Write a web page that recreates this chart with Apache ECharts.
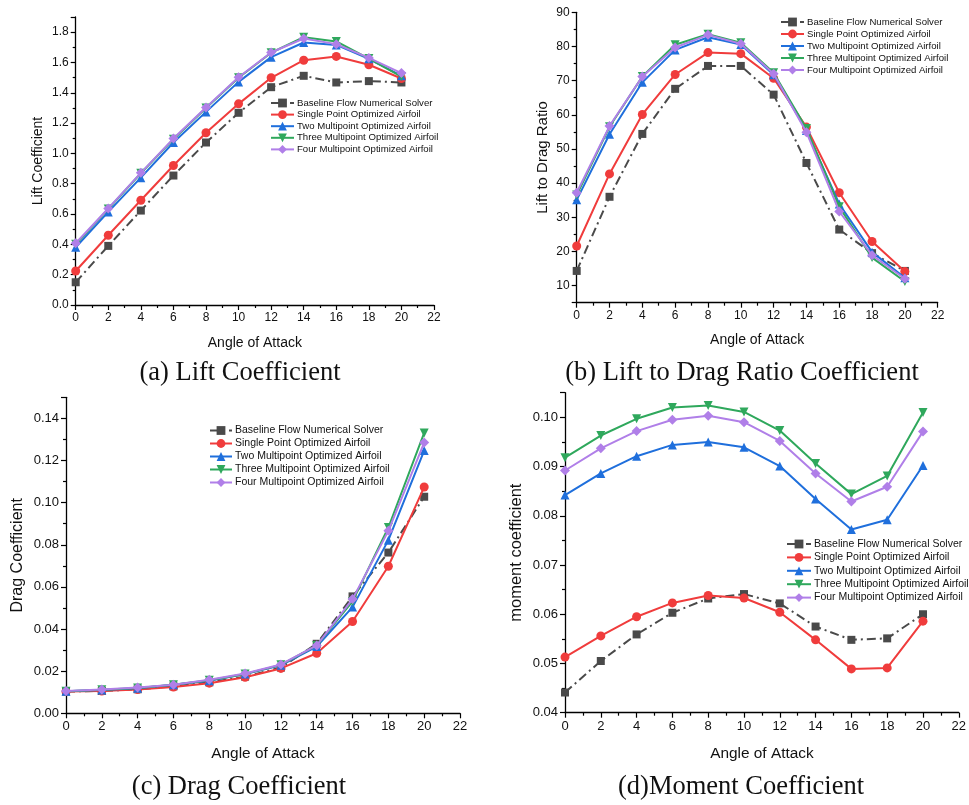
<!DOCTYPE html>
<html>
<head>
<meta charset="utf-8">
<script src="https://cdn.jsdelivr.net/npm/echarts@6/dist/echarts.min.js"></script>
<style>
html,body{margin:0;padding:0;background:#fff;}
#main{width:969px;height:805px;}
</style>
</head>
<body>
<div id="main"></div>
<script>
// ---------- data ----------
var angles = [0, 2, 4, 6, 8, 10, 12, 14, 16, 18, 20];
var seriesNames = [
  'Baseline Flow Numerical Solver',
  'Single Point Optimized Airfoil',
  'Two Multipoint Optimized Airfoil',
  'Three Multipoint Optimized Airfoil',
  'Four Multipoint Optimized Airfoil'
];
var xTickLabels = [0, 2, 4, 6, 8, 10, 12, 14, 16, 18, 20, 22];

// (a) Lift coefficient
var liftBaseline = [0.15, 0.39, 0.623, 0.854, 1.072, 1.268, 1.437, 1.512, 1.468, 1.477, 1.468];
var liftSingle   = [0.224, 0.46, 0.691, 0.92, 1.136, 1.327, 1.499, 1.615, 1.64, 1.585, 1.494];
var liftTwo      = [0.381, 0.614, 0.84, 1.072, 1.274, 1.472, 1.635, 1.732, 1.716, 1.624, 1.512];
var liftThree    = [0.40, 0.634, 0.869, 1.094, 1.30, 1.499, 1.664, 1.767, 1.739, 1.626, 1.507];
var liftFour     = [0.407, 0.637, 0.872, 1.098, 1.303, 1.502, 1.666, 1.758, 1.721, 1.63, 1.53];

// (b) Lift to drag ratio
var ldBaseline = [14.3, 36.0, 54.4, 67.6, 74.3, 74.3, 65.9, 45.9, 26.4, 19.5, 14.3];
var ldSingle   = [21.6, 42.7, 60.1, 71.8, 78.2, 77.9, 70.7, 56.4, 37.2, 22.9, 14.1];
var ldTwo      = [35.1, 54.3, 69.5, 79.0, 82.7, 80.6, 71.7, 55.4, 33.9, 19.8, 12.3];
var ldThree    = [36.5, 56.5, 71.2, 80.5, 83.6, 81.1, 72.3, 56.0, 33.1, 18.2, 11.2];
var ldFour     = [37.2, 56.7, 71.2, 79.7, 83.4, 80.8, 72.0, 54.9, 31.7, 18.9, 12.0];

// (c) Drag coefficient
var dragBaseline = [0.0103, 0.0106, 0.0114, 0.0128, 0.0147, 0.0174, 0.0217, 0.0330, 0.0555, 0.0763, 0.1028];
var dragSingle   = [0.0103, 0.0106, 0.0113, 0.0125, 0.0143, 0.0171, 0.0213, 0.0285, 0.0436, 0.0698, 0.1074];
var dragTwo      = [0.0105, 0.0111, 0.0119, 0.0135, 0.0155, 0.0186, 0.0228, 0.0317, 0.0504, 0.0822, 0.1247];
var dragThree    = [0.0105, 0.0112, 0.0120, 0.0136, 0.0157, 0.0187, 0.0230, 0.0322, 0.0531, 0.0882, 0.1331];
var dragFour     = [0.0106, 0.0113, 0.0122, 0.0136, 0.0159, 0.0189, 0.0232, 0.0322, 0.0542, 0.0866, 0.1285];

// (d) Moment coefficient
var momBaseline = [0.0441, 0.0505, 0.0559, 0.0603, 0.0632, 0.0641, 0.0622, 0.0575, 0.0548, 0.0551, 0.0600];
var momSingle   = [0.0513, 0.0556, 0.0595, 0.0623, 0.0638, 0.0633, 0.0604, 0.0548, 0.0489, 0.0491, 0.0586];
var momTwo      = [0.0842, 0.0886, 0.0921, 0.0944, 0.0950, 0.0939, 0.0901, 0.0834, 0.0772, 0.0792, 0.0902];
var momThree    = [0.0918, 0.0963, 0.0997, 0.1020, 0.1024, 0.1011, 0.0973, 0.0906, 0.0844, 0.0881, 0.1010];
var momFour     = [0.0892, 0.0937, 0.0972, 0.0995, 0.1003, 0.0990, 0.0952, 0.0886, 0.0829, 0.0859, 0.0971];

var captions = ['(a) Lift Coefficient', '(b) Lift to Drag Ratio Coefficient', '(c) Drag Coefficient', '(d)Moment Coefficient'];
var yNames = ['Lift Coefficient', 'Lift to Drag Ratio', 'Drag Coefficient', 'moment coefficient'];
var xName = 'Angle of Attack';

// ---------- styles ----------
var colors = ['#4a4a4a', '#f03c3c', '#1f6fdc', '#2fa85c', '#b07fe8'];
var symbols = ['rect', 'circle', 'triangle', 'triangle', 'diamond'];
var rotates = [0, 0, 0, 180, 0];
var symSizes = [8, 9, 9, 9, 10];

var panels = [
  [liftBaseline, liftSingle, liftTwo, liftThree, liftFour],
  [ldBaseline, ldSingle, ldTwo, ldThree, ldFour],
  [dragBaseline, dragSingle, dragTwo, dragThree, dragFour],
  [momBaseline, momSingle, momTwo, momThree, momFour]
];

var grids = [
  {left: 75.7, top: 17, width: 358.3, height: 288},
  {left: 576.7, top: 12.3, width: 361, height: 290.4},
  {left: 66, top: 397.3, width: 394, height: 316},
  {left: 565, top: 392.7, width: 396.7, height: 320}
];
var tickFont = [12, 12, 13, 13];
var nameFont = [14, 15, 16, 16.5];
var xNameFont = [14, 14, 15.4, 15.4];
var yNameGap = [31, 26, 40, 40];
var xNameGap = [31, 30, 33, 34];

var yAxisCfg = [
  {min: 0, max: 1.9, interval: 0.2},
  {min: 5, max: 90, splitNumber: 9},
  {min: 0, max: 0.15, interval: 0.02},
  {min: 0.04, max: 0.105, interval: 0.01}
];
var yFormat = [
  function (v) { return v.toFixed(1); },
  function (v) { return String(Math.round(v)); },
  function (v) { return v.toFixed(2); },
  function (v) { return v.toFixed(2); }
];

var axisCommon = {
  axisLine: {show: true, onZero: false, lineStyle: {color: '#000', width: 1.3}},
  axisTick: {show: true, inside: false, length: 5, lineStyle: {color: '#000', width: 1.2}},
  minorTick: {show: true, splitNumber: 2, length: 3, lineStyle: {color: '#000', width: 1.2}},
  splitLine: {show: false},
  minorSplitLine: {show: false}
};

var xAxes = [], yAxes = [], series = [], graphics = [], legends = [];
for (var p = 0; p < 4; p++) {
  xAxes.push(Object.assign({}, axisCommon, {
    type: 'value', gridIndex: p, min: 0, max: 22, interval: 2,
    name: xName, nameLocation: 'middle', nameGap: xNameGap[p],
    nameTextStyle: {fontFamily: 'Liberation Sans', fontSize: xNameFont[p], color: '#111'},
    axisLabel: {fontFamily: 'Liberation Sans', fontSize: tickFont[p], color: '#111', margin: 7}
  }));
  var yc = yAxisCfg[p];
  yAxes.push(Object.assign({}, axisCommon, yc, {
    type: 'value', gridIndex: p,
    name: yNames[p], nameLocation: 'middle', nameGap: yNameGap[p],
    nameTextStyle: {fontFamily: 'Liberation Sans', fontSize: nameFont[p], color: '#111'},
    axisLabel: {fontFamily: 'Liberation Sans', fontSize: tickFont[p], color: '#111', margin: 7,
      showMaxLabel: p === 1, showMinLabel: p !== 1, formatter: yFormat[p]}
  }));
  for (var s = 0; s < 5; s++) {
    var vals = panels[p][s];
    var pts = angles.map(function (a, i) { return [a, vals[i]]; });
    series.push({
      type: 'line', name: seriesNames[s], xAxisIndex: p, yAxisIndex: p,
      data: pts, symbol: symbols[s], symbolSize: symSizes[s], symbolRotate: rotates[s],
      showAllSymbol: true, animation: false,
      itemStyle: {color: colors[s]},
      lineStyle: {color: colors[s], width: 2, type: s === 0 ? [9, 4, 2, 4] : 'solid'},
      z: 2 + s
    });
  }
}

var legendPos = [
  {left: 270, top: 98, fs: 9.6, h: 11, gap: 1.6, w: 23},
  {left: 780, top: 17, fs: 9.6, h: 11, gap: 2, w: 23},
  {left: 209, top: 425, fs: 10.5, h: 11, gap: 2, w: 22},
  {left: 786, top: 538.5, fs: 10.5, h: 11, gap: 2.4, w: 24}
];
legendPos.forEach(function (lp) {
  legends.push({
    data: seriesNames, orient: 'vertical', left: lp.left, top: lp.top,
    itemWidth: lp.w, itemHeight: lp.h, itemGap: lp.gap, padding: 0,
    selectedMode: false,
    textStyle: {fontFamily: 'Liberation Sans', fontSize: lp.fs, color: '#111', padding: [0, 0, 0, -2]}
  });
});

var capPos = [[240, 373], [742, 373], [239, 787], [741, 787]];
capPos.forEach(function (c, i) {
  graphics.push({
    type: 'text', x: c[0], y: c[1],
    style: {text: captions[i], font: '26.5px "Liberation Serif"', fill: '#111',
      textAlign: 'center', textVerticalAlign: 'middle'}
  });
});

var chart = echarts.init(document.getElementById('main'), null, {renderer: 'canvas'});
chart.setOption({
  backgroundColor: '#ffffff',
  animation: false,
  grid: grids,
  xAxis: xAxes,
  yAxis: yAxes,
  legend: legends,
  series: series,
  graphic: graphics
});
</script>
</body>
</html>
